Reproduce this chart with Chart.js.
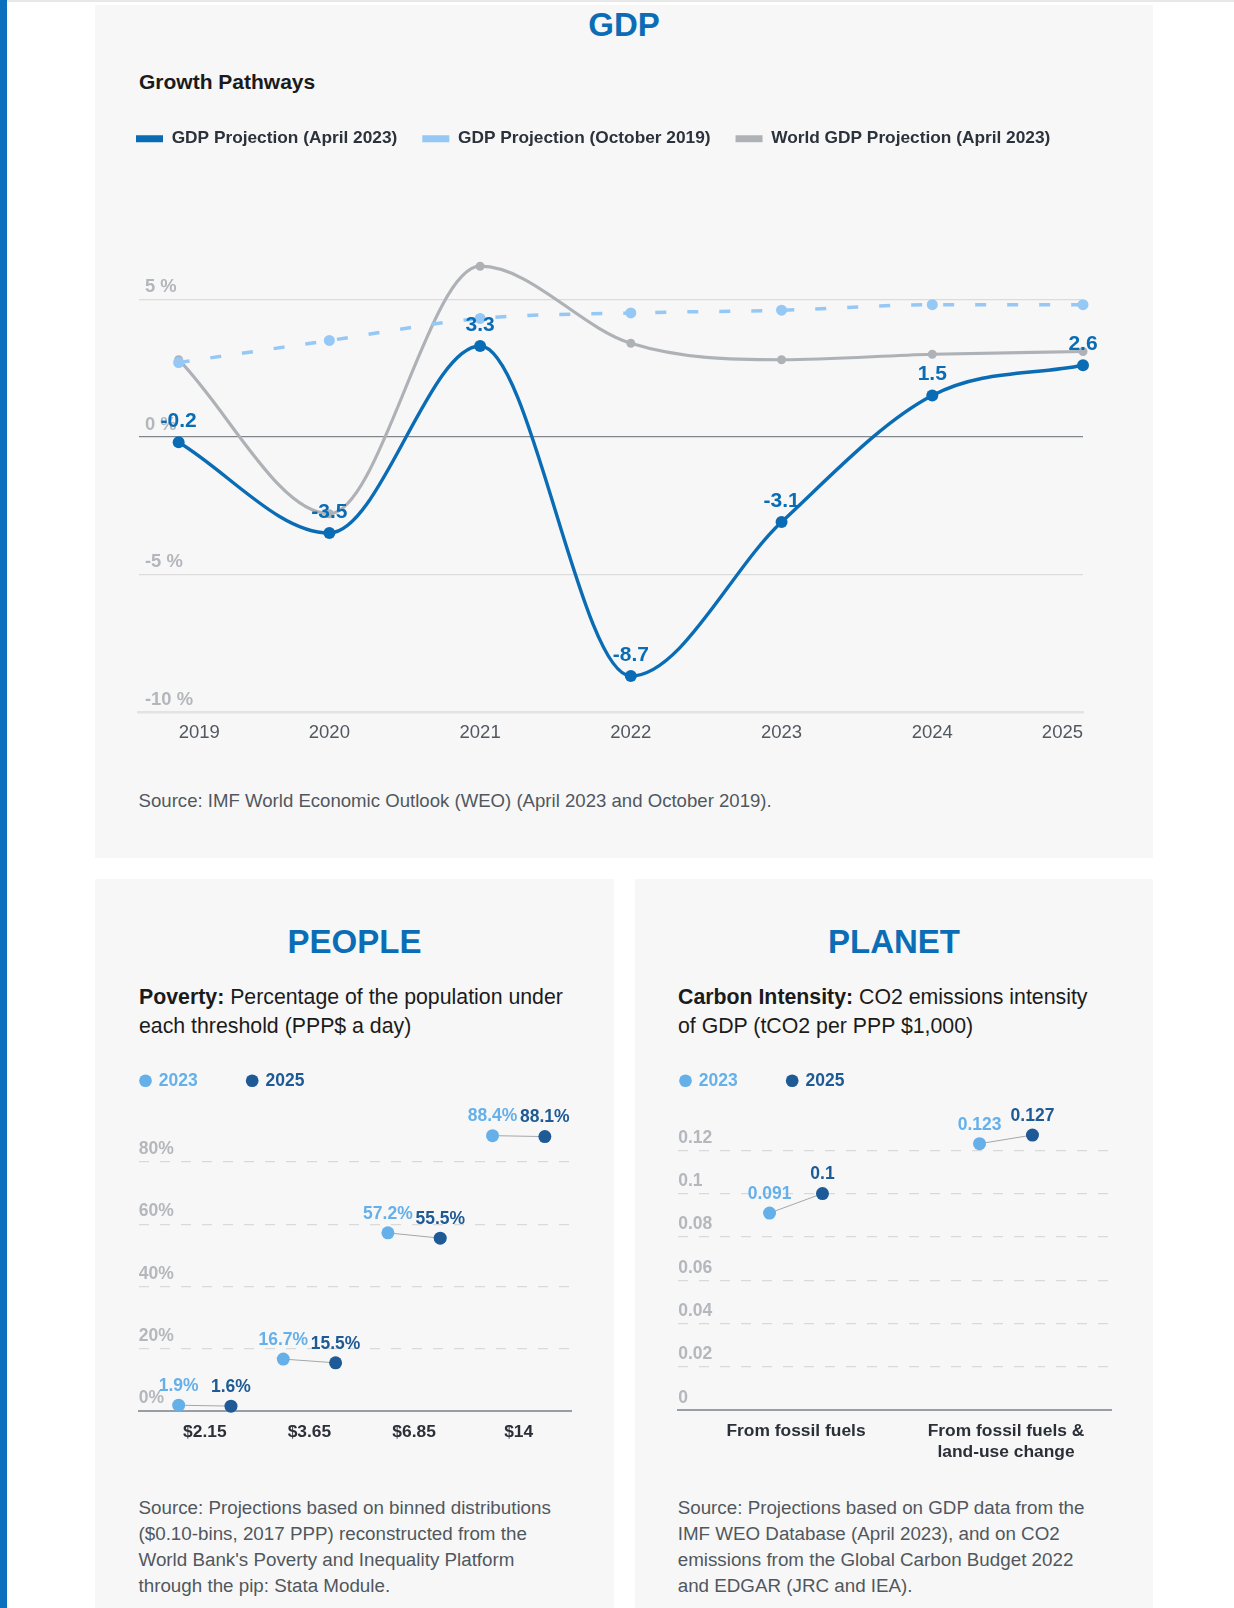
<!DOCTYPE html>
<html>
<head>
<meta charset="utf-8">
<script src="https://cdn.jsdelivr.net/npm/chart.js@4.4.0/dist/chart.umd.min.js"></script>
<style>
html,body{margin:0;padding:0;background:#ffffff;}
#page{position:relative;width:1234px;height:1608px;overflow:hidden;font-family:"Liberation Sans",Arial,Helvetica,sans-serif;}
.abs{position:absolute;}
.panel{position:absolute;background:#f7f7f7;}
.title{position:absolute;font-size:33px;font-weight:bold;color:#0b6db5;line-height:40px;text-align:center;white-space:nowrap;}
.sub{position:absolute;font-size:21.3px;line-height:29.4px;color:#1b1b1b;white-space:nowrap;}
.src{position:absolute;font-size:18.8px;line-height:26px;color:#51575e;white-space:nowrap;}
.cw{position:absolute;}
</style>
</head>
<body>
<div id="page">
  <div class="abs" style="left:0;top:0;width:7px;height:1608px;background:#0a70bd"></div>
  <div class="abs" style="left:7px;top:0;width:1227px;height:2px;background:#e8e8e8"></div>

  <div class="panel" style="left:95px;top:5px;width:1058px;height:853px"></div>
  <div class="panel" style="left:95px;top:879px;width:519px;height:740px"></div>
  <div class="panel" style="left:635px;top:879px;width:518px;height:740px"></div>

  <div class="title" style="left:95px;width:1058px;top:5px">GDP</div>
  <div class="sub" style="left:139px;top:66.7px;line-height:30px;font-weight:bold;font-size:21px">Growth Pathways</div>
  <div class="cw" style="left:111px;top:105px;width:1012px;height:649px"><canvas id="gdpChart"></canvas></div>
  <div class="src" style="left:138.6px;top:788px;font-size:18.6px">Source: IMF World Economic Outlook (WEO) (April 2023 and October 2019).</div>

  <div class="title" style="left:95px;width:519px;top:921.7px">PEOPLE</div>
  <div class="sub" style="left:139px;top:982.6px"><b>Poverty:</b> Percentage of the population under<br>each threshold (PPP$ a day)</div>
  <div class="cw" style="left:90.5px;top:1022px;width:500px;height:432px"><canvas id="peopleChart"></canvas></div>
  <div class="src" style="left:138.5px;top:1495px">Source: Projections based on binned distributions<br>($0.10-bins, 2017 PPP) reconstructed from the<br>World Bank's Poverty and Inequality Platform<br>through the pip: Stata Module.</div>

  <div class="title" style="left:635px;width:518px;top:921.7px">PLANET</div>
  <div class="sub" style="left:678px;top:982.6px"><b>Carbon Intensity:</b> CO2 emissions intensity<br>of GDP (tCO2 per PPP $1,000)</div>
  <div class="cw" style="left:630.5px;top:1022px;width:500px;height:452px"><canvas id="planetChart"></canvas></div>
  <div class="src" style="left:677.7px;top:1495px">Source: Projections based on GDP data from the<br>IMF WEO Database (April 2023), and on CO2<br>emissions from the Global Carbon Budget 2022<br>and EDGAR (JRC and IEA).</div>
</div>

<script>
// ---------------- DATA ----------------
const gdpYears = ['2019', '2020', '2021', '2022', '2023', '2024', '2025'];
const gdpSeriesNames = ['GDP Projection (April 2023)', 'GDP Projection (October 2019)', 'World GDP Projection (April 2023)'];
const gdpApr2023 = [-0.2, -3.5, 3.3, -8.7, -3.1, 1.5, 2.6];
const gdpOct2019 = [2.7, 3.5, 4.3, 4.5, 4.6, 4.8, 4.8];
const worldGdpApr2023 = [2.8, -2.8, 6.2, 3.4, 2.8, 3.0, 3.1];
const gdpTicks = [-10, -5, 0, 5];

const compareYears = ['2023', '2025'];
const povertyThresholds = ['$2.15', '$3.65', '$6.85', '$14'];
const poverty2023 = [1.9, 16.7, 57.2, 88.4];
const poverty2025 = [1.6, 15.5, 55.5, 88.1];
const povertyTicks = [0, 20, 40, 60, 80];

const carbonCategories = [['From fossil fuels'], ['From fossil fuels &', 'land-use change']];
const carbon2023 = [0.091, 0.123];
const carbon2025 = [0.1, 0.127];
const carbonTicks = [0, 0.02, 0.04, 0.06, 0.08, 0.1, 0.12];

// ---------------- STYLE ----------------
const FONT = '"Liberation Sans", Arial, Helvetica, sans-serif';
Chart.defaults.font.family = FONT;
Chart.defaults.animation = false;

const C = {
  blue: '#0a6cb4', light: '#96c8f5', gray: '#aeb2b7',
  y23: '#66b0ea', y25: '#1e5a95',
  tick: '#b3b7bc', axisText: '#51585f', catText: '#2b3038'
};

function valueLabelPlugin(specs) {
  return {
    id: 'valueLabels',
    afterDatasetsDraw(chart) {
      const ctx = chart.ctx;
      specs.forEach(s => {
        const meta = chart.getDatasetMeta(s.index);
        const ds = chart.data.datasets[s.index];
        ctx.save();
        ctx.font = 'bold ' + s.size + 'px ' + FONT;
        ctx.fillStyle = s.color;
        ctx.textAlign = 'center';
        ctx.textBaseline = 'middle';
        meta.data.forEach((pt, i) => {
          const raw = ds.data[i];
          const v = (raw && typeof raw === 'object') ? raw.y : raw;
          ctx.fillText(s.format(v), pt.x, pt.y - s.offset);
        });
        ctx.restore();
      });
    }
  };
}

const connectorPlugin = {
  id: 'connectors',
  beforeDatasetsDraw(chart) {
    const a = chart.getDatasetMeta(0).data;
    const b = chart.getDatasetMeta(1).data;
    const ctx = chart.ctx;
    ctx.save();
    ctx.strokeStyle = '#a3a6aa';
    ctx.lineWidth = 1;
    a.forEach((p, i) => {
      if (!b[i]) return;
      ctx.beginPath();
      ctx.moveTo(p.x, p.y);
      ctx.lineTo(b[i].x, b[i].y);
      ctx.stroke();
    });
    ctx.restore();
  }
};

// ---------------- GDP ----------------
const toXY = arr => arr.map((v, i) => ({ x: Number(gdpYears[i]), y: v }));

new Chart(document.getElementById('gdpChart'), {
  type: 'line',
  data: {
    datasets: [
      { label: gdpSeriesNames[0], data: toXY(gdpApr2023), borderColor: C.blue, backgroundColor: C.blue,
        borderWidth: 3.4, pointRadius: 6, pointBackgroundColor: C.blue, pointBorderWidth: 0,
        cubicInterpolationMode: 'monotone', clip: false },
      { label: gdpSeriesNames[1], data: toXY(gdpOct2019), borderColor: C.light, backgroundColor: C.light,
        borderWidth: 3.5, borderDash: [11, 21], pointRadius: 5.5, pointBackgroundColor: C.light, pointBorderWidth: 0,
        cubicInterpolationMode: 'monotone', clip: false },
      { label: gdpSeriesNames[2], data: toXY(worldGdpApr2023), borderColor: C.gray, backgroundColor: C.gray,
        borderWidth: 3.2, pointRadius: 4.5, pointBackgroundColor: C.gray, pointBorderWidth: 0,
        cubicInterpolationMode: 'monotone', clip: false }
    ]
  },
  options: {
    responsive: true, maintainAspectRatio: false, events: [],
    layout: { padding: 0 },
    plugins: {
      tooltip: { enabled: false },
      legend: {
        position: 'top', align: 'start',
        labels: {
          boxWidth: 27, boxHeight: 7, padding: 25,
          font: { size: 17.3, weight: 'bold' }, color: '#2b323b',
          generateLabels: chart => chart.data.datasets.map((ds, i) => ({
            text: ds.label, fillStyle: ds.borderColor, strokeStyle: ds.borderColor,
            lineWidth: 0, hidden: false, datasetIndex: i, fontColor: '#2b323b'
          }))
        }
      }
    },
    scales: {
      x: {
        type: 'linear', min: 2018.735, max: 2025,
        afterBuildTicks: s => { s.ticks = gdpYears.map(y => ({ value: Number(y) })); },
        afterFit: s => { s.paddingLeft = 0; s.paddingRight = 40; },
        grid: { display: false, drawTicks: false },
        border: { display: true, color: '#e3e3e3', width: 2.5 },
        ticks: { align: 'inner', padding: 10, color: C.axisText, font: { size: 18.5 },
          autoSkip: false, maxRotation: 0, callback: (v, i) => gdpYears[i] }
      },
      y: {
        type: 'linear', min: -10, max: 10.16,
        afterBuildTicks: s => { s.ticks = gdpTicks.map(v => ({ value: v })); },
        afterFit: s => { s.width = 27.7; },
        grid: {
          drawTicks: false,
          color: c => (c.tick && c.tick.value === 0) ? '#80868d' : ((c.tick && c.tick.value === -10) ? 'rgba(0,0,0,0)' : '#dcdcdc'),
          lineWidth: c => (c.tick && c.tick.value === 0) ? 1.3 : 1.2
        },
        border: { display: false },
        ticks: { mirror: true, padding: 6.3, labelOffset: -12.3, color: C.tick,
          font: { size: 18.4, weight: 'bold' }, callback: v => v + ' %' }
      }
    }
  },
  plugins: [valueLabelPlugin([{ index: 0, size: 21, color: C.blue, offset: 21, format: v => String(v) }])]
});

// ---------------- Dumbbell charts ----------------
function dumbbell(canvasId, cats, a, b, ticks, yMax, off, xMin, yWidth, tickFmt, valFmt) {
  return new Chart(document.getElementById(canvasId), {
    type: 'scatter',
    data: {
      datasets: [
        { label: compareYears[0], data: a.map((v, i) => ({ x: i - off, y: v })), backgroundColor: C.y23,
          pointBackgroundColor: C.y23, pointRadius: 6.5, pointBorderWidth: 0, showLine: false, clip: false },
        { label: compareYears[1], data: b.map((v, i) => ({ x: i + off, y: v })), backgroundColor: C.y25,
          pointBackgroundColor: C.y25, pointRadius: 6.5, pointBorderWidth: 0, showLine: false, clip: false }
      ]
    },
    options: {
      responsive: true, maintainAspectRatio: false, events: [],
      layout: { padding: { left: 0, top: 0, bottom: 0, right: 20 } },
      plugins: {
        tooltip: { enabled: false },
        legend: {
          position: 'top', align: 'start',
          labels: {
            usePointStyle: true, boxWidth: 9, boxHeight: 9, padding: 50,
            font: { size: 17.5, weight: 'bold' },
            generateLabels: chart => chart.data.datasets.map((ds, i) => ({
              text: ds.label, fillStyle: ds.backgroundColor, strokeStyle: ds.backgroundColor,
              lineWidth: 0, pointStyle: 'circle', hidden: false, datasetIndex: i, fontColor: ds.backgroundColor
            }))
          }
        }
      },
      scales: {
        x: {
          type: 'linear', min: xMin, max: cats.length - 0.5,
          afterBuildTicks: s => { s.ticks = cats.map((c, i) => ({ value: i })); },
          grid: { display: false, drawTicks: false },
          border: { display: true, color: '#989ea5', width: 2 },
          ticks: { padding: 11, color: C.catText, font: { size: 17.4, weight: 'bold' },
            autoSkip: false, maxRotation: 0, callback: (v, i) => cats[i] }
        },
        y: {
          type: 'linear', min: 0, max: yMax,
          afterBuildTicks: s => { s.ticks = ticks.map(v => ({ value: v })); },
          afterFit: s => { s.width = yWidth; },
          grid: { drawTicks: false, lineWidth: 1.2,
            color: c => (c.tick && c.tick.value === 0) ? 'rgba(0,0,0,0)' : '#d9d9d9' },
          border: { display: false, dash: [10, 11] },
          ticks: { mirror: true, padding: 0, labelOffset: -12.5, color: '#b4b8bd',
            font: { size: 17.5, weight: 'bold' }, callback: tickFmt }
        }
      }
    },
    plugins: [connectorPlugin, valueLabelPlugin([
      { index: 0, size: 17.5, color: C.y23, offset: 19, format: valFmt },
      { index: 1, size: 17.5, color: C.y25, offset: 19, format: valFmt }
    ])]
  });
}

dumbbell('peopleChart', povertyThresholds, poverty2023, poverty2025, povertyTicks, 100, 0.25, -0.631, 47.8,
  v => v + '%', v => v.toFixed(1) + '%');
dumbbell('planetChart', carbonCategories, carbon2023, carbon2025, carbonTicks, 0.1434, 0.126, -0.561, 47.2,
  v => String(v), v => String(v));
</script>
</body>
</html>
